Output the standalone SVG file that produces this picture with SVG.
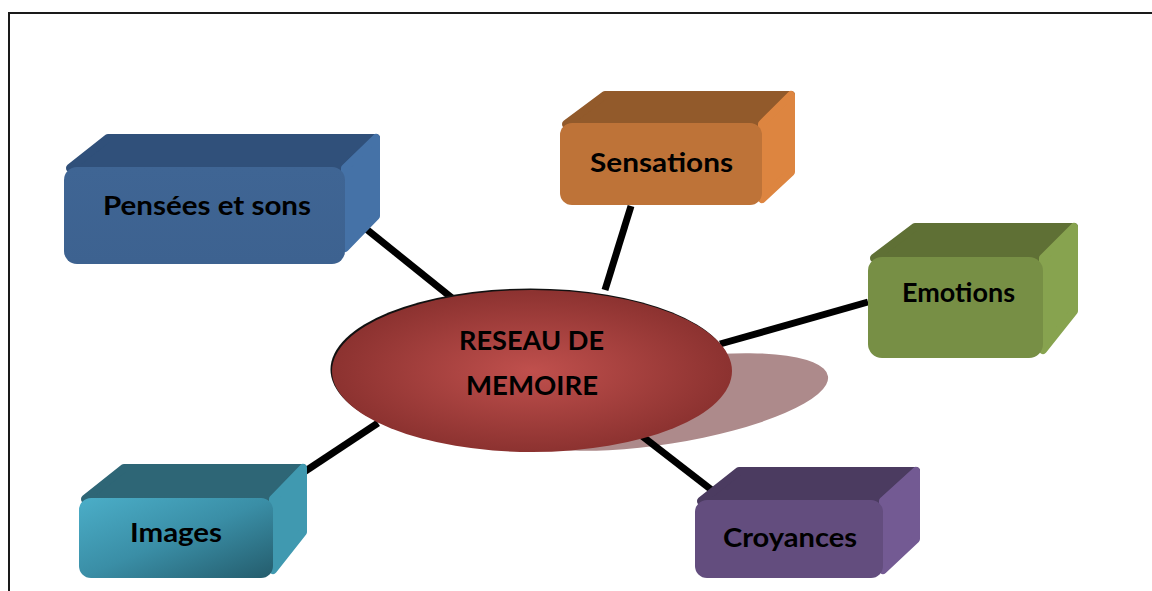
<svg xmlns="http://www.w3.org/2000/svg" width="1152" height="591" viewBox="0 0 1152 591">
<defs>
<style>
.lbl{font-family:Lato,"Open Sans","Liberation Sans",sans-serif;font-weight:bold;font-size:27px;fill:#000;text-anchor:middle}
.face{stroke-linejoin:round;stroke-width:8}
.conn{stroke:#000;stroke-width:7;stroke-linecap:butt;fill:none}
</style>
<radialGradient id="gEll" cx="0.5" cy="0.5" r="0.5">
<stop offset="0" stop-color="#C0504D"/>
<stop offset="1" stop-color="#8C3230"/>
</radialGradient>
<linearGradient id="gImg" x1="0" y1="0" x2="1" y2="1">
<stop offset="0" stop-color="#4BAEC8"/>
<stop offset="0.5" stop-color="#3A8EA6"/>
<stop offset="1" stop-color="#245C6C"/>
</linearGradient>
<linearGradient id="gPen" x1="0" y1="0" x2="0" y2="1">
<stop offset="0" stop-color="#3F6594"/>
<stop offset="1" stop-color="#3D6290"/>
</linearGradient>
</defs>
<rect width="1152" height="591" fill="#fff"/>
<path d="M9,591 V13 H1152" fill="none" stroke="#1a1a1a" stroke-width="2"/>

<ellipse cx="665" cy="402" rx="165" ry="42" transform="rotate(-9 665 402)" fill="#AD8A8B"/>

<g id="connectors">
<line class="conn" x1="365" y1="228" x2="452" y2="298"/>
<line class="conn" x1="631" y1="206" x2="605" y2="290"/>
<line class="conn" x1="868" y1="302" x2="720" y2="344"/>
<line class="conn" x1="304" y1="472" x2="378" y2="423"/>
<line class="conn" x1="642" y1="436" x2="713" y2="491"/>
</g>

<g id="center">
<ellipse cx="530.5" cy="369.5" rx="200" ry="81" fill="#111"/>
<ellipse cx="532" cy="371" rx="200" ry="81" fill="url(#gEll)"/>
<text class="lbl" x="531.5" y="350" textLength="145" lengthAdjust="spacingAndGlyphs">RESEAU DE</text>
<text class="lbl" x="532" y="395" textLength="132" lengthAdjust="spacingAndGlyphs">MEMOIRE</text>
</g>

<g id="pensees">
<polygon class="face" points="70,168 108,138 376,138 345,168" fill="#30507A" stroke="#30507A"/>
<polygon class="face" points="345,168 376,138 376,216 345,248" fill="#4572A7" stroke="#4572A7"/>
<rect x="64" y="167" width="281" height="97" rx="13" fill="url(#gPen)"/>
<text class="lbl" x="207" y="215" textLength="208" lengthAdjust="spacingAndGlyphs">Pensées et sons</text>
</g>

<g id="sensations">
<polygon class="face" points="566,124 605,95 791,95 762,124" fill="#925A2B" stroke="#925A2B"/>
<polygon class="face" points="762,124 791,95 791,172 762,199" fill="#DD8540" stroke="#DD8540"/>
<rect x="560" y="123" width="202" height="82" rx="12" fill="#BE7338"/>
<text class="lbl" x="661.5" y="172" textLength="143" lengthAdjust="spacingAndGlyphs">Sensations</text>
</g>

<g id="emotions">
<polygon class="face" points="874,258 915,227 1074,227 1043,258" fill="#5F7035" stroke="#5F7035"/>
<polygon class="face" points="1043,258 1074,227 1074,311 1043,350" fill="#87A34F" stroke="#87A34F"/>
<rect x="868" y="257" width="175" height="101" rx="14" fill="#778F45"/>
<text class="lbl" x="958.5" y="302" textLength="113" lengthAdjust="spacingAndGlyphs">Emotions</text>
</g>

<g id="images">
<polygon class="face" points="85,499 124,468 303,468 273,499" fill="#2E6676" stroke="#2E6676"/>
<polygon class="face" points="273,499 303,468 303,532 273,570" fill="#4099B0" stroke="#4099B0"/>
<rect x="79" y="498" width="194" height="80" rx="12" fill="url(#gImg)"/>
<text class="lbl" x="176" y="542" textLength="92" lengthAdjust="spacingAndGlyphs">Images</text>
</g>

<g id="croyances">
<polygon class="face" points="701,501 739,471 916,471 883,501" fill="#4B3B60" stroke="#4B3B60"/>
<polygon class="face" points="883,501 916,471 916,539 883,570" fill="#735A93" stroke="#735A93"/>
<rect x="695" y="500" width="188" height="78" rx="12" fill="#634D7E"/>
<text class="lbl" x="790" y="547" textLength="134" lengthAdjust="spacingAndGlyphs">Croyances</text>
</g>
</svg>
